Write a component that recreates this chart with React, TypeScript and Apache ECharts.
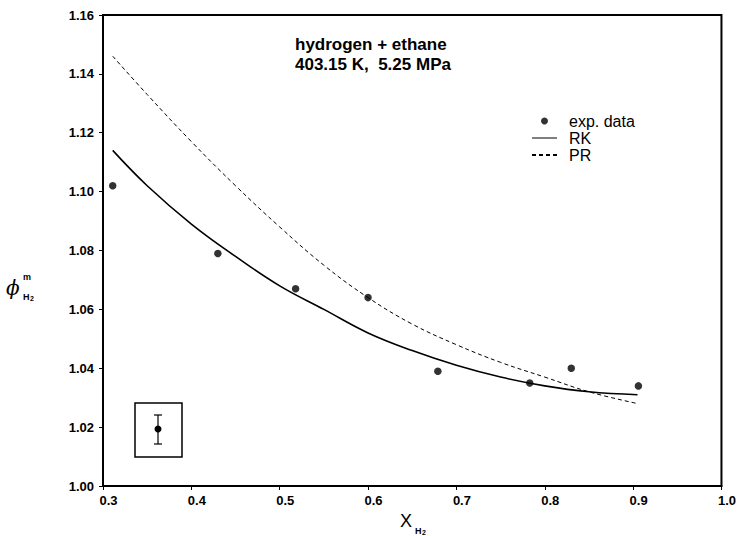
import React, { useEffect, useRef } from "react";
import * as echarts from "echarts";

const FONT = "'Liberation Sans', Arial, Helvetica, sans-serif";

// experimental data: [x_H2, phi_H2^m]
const expX = [0.311, 0.43, 0.518, 0.6, 0.679, 0.783, 0.83, 0.906];
const expY = [1.102, 1.079, 1.067, 1.064, 1.039, 1.035, 1.04, 1.034];

// model curves
const curveX = [0.311, 0.35, 0.4, 0.45, 0.5, 0.55, 0.6, 0.65, 0.7, 0.75, 0.8, 0.85, 0.905];
const rkY = [1.114, 1.102, 1.089, 1.078, 1.068, 1.06, 1.052, 1.046, 1.041, 1.037, 1.034, 1.032, 1.031];
const prY = [1.146, 1.133, 1.117, 1.102, 1.088, 1.075, 1.064, 1.055, 1.048, 1.042, 1.037, 1.032, 1.028];

const xTicks = { min: 0.3, max: 1.0, interval: 0.1 };
const yTicks = { min: 1.0, max: 1.16, interval: 0.02 };

const titleLines = ["hydrogen + ethane", "403.15 K,  5.25 MPa"];

export default function App() {
  const ref = useRef<HTMLDivElement>(null);
  useEffect(() => {
    if (!ref.current) return;
    const chart = echarts.init(ref.current, null, { renderer: "svg" });
    const zip = (xs: number[], ys: number[]) => xs.map((x, i) => [x, ys[i]]);
    const axisLabel = { color: "#000", fontFamily: FONT, fontWeight: "bold" as const, fontSize: 13 };
    chart.setOption({
      animation: false,
      backgroundColor: "#fff",
      grid: { left: 103, right: 16, top: 15, bottom: 50, show: true, borderColor: "#000", borderWidth: 2 },
      xAxis: {
        type: "value",
        min: xTicks.min,
        max: xTicks.max,
        interval: xTicks.interval,
        axisLine: { show: true, lineStyle: { color: "#000", width: 2 } },
        axisTick: { show: true, inside: false, length: 4, lineStyle: { color: "#000", width: 1 } },
        axisLabel: { ...axisLabel, margin: 8, padding: [0, 0, 0, 11], formatter: (v: number) => v.toFixed(1) },
        splitLine: { show: false },
      },
      yAxis: {
        type: "value",
        min: yTicks.min,
        max: yTicks.max,
        interval: yTicks.interval,
        axisLine: { show: true, lineStyle: { color: "#000", width: 2 } },
        axisTick: { show: true, inside: false, length: 4, lineStyle: { color: "#000", width: 1 } },
        axisLabel: { ...axisLabel, margin: 9, formatter: (v: number) => v.toFixed(2) },
        splitLine: { show: false },
      },
      legend: {
        orient: "vertical",
        left: 531,
        top: 113,
        padding: 0,
        itemGap: 1,
        itemWidth: 25,
        itemHeight: 7,
        textStyle: { fontSize: 16, fontFamily: FONT, color: "#000", lineHeight: 16, padding: [0, 0, 0, 7] },
        data: [
          { name: "exp. data", icon: "circle" },
          { name: "RK", itemStyle: { opacity: 0, borderWidth: 0 }, lineStyle: { width: 1 } },
          { name: "PR", itemStyle: { opacity: 0, borderWidth: 0 } },
        ],
      },
      series: [
        {
          name: "exp. data",
          type: "scatter",
          symbol: "circle",
          symbolSize: 7.5,
          itemStyle: { color: "#000" },
          data: zip(expX, expY),
          z: 5,
        },
        {
          name: "RK",
          type: "line",
          smooth: 0.4,
          showSymbol: false,
          symbol: "none",
          lineStyle: { color: "#000", width: 1.6, type: "solid" },
          itemStyle: { color: "#000" },
          data: zip(curveX, rkY),
        },
        {
          name: "PR",
          type: "line",
          smooth: 0.4,
          showSymbol: false,
          symbol: "none",
          lineStyle: { color: "#000", width: 1, type: [4, 3] },
          itemStyle: { color: "#000" },
          data: zip(curveX, prY),
        },
      ],
      graphic: [
        {
          type: "text",
          left: 295,
          top: 34,
          style: { text: titleLines.join("\n"), fontFamily: FONT, fontWeight: "bold", fontSize: 17, lineHeight: 20, fill: "#000" },
        },
        // inset showing typical error bar
        { type: "rect", shape: { x: 135, y: 403, width: 47, height: 54 }, style: { fill: "none", stroke: "#000", lineWidth: 1.5 } },
        { type: "line", shape: { x1: 158, y1: 415, x2: 158, y2: 444 }, style: { stroke: "#000", lineWidth: 1.2 } },
        { type: "line", shape: { x1: 154, y1: 415, x2: 162, y2: 415 }, style: { stroke: "#000", lineWidth: 1.2 } },
        { type: "line", shape: { x1: 154, y1: 444, x2: 162, y2: 444 }, style: { stroke: "#000", lineWidth: 1.2 } },
        { type: "circle", shape: { cx: 158, cy: 429, r: 3.5 }, style: { fill: "#000" } },
        // y-axis title
        { type: "text", x: 6, y: 278, style: { text: "ϕ", fontFamily: "'DejaVu Serif', serif", fontStyle: "italic", fontSize: 20, fill: "#000" } },
        { type: "text", x: 23, y: 272, style: { text: "m", fontFamily: FONT, fontWeight: "bold", fontSize: 9, fill: "#000" } },
        { type: "text", x: 23, y: 292, style: { text: "H", fontFamily: FONT, fontWeight: "bold", fontSize: 9, fill: "#000" } },
        { type: "text", x: 30, y: 295, style: { text: "2", fontFamily: FONT, fontWeight: "bold", fontSize: 7, fill: "#000" } },
        // x-axis title
        { type: "text", x: 400, y: 512, style: { text: "X", fontFamily: FONT, fontSize: 18, fill: "#000" } },
        { type: "text", x: 415, y: 526, style: { text: "H", fontFamily: FONT, fontWeight: "bold", fontSize: 9, fill: "#000" } },
        { type: "text", x: 422, y: 529, style: { text: "2", fontFamily: FONT, fontWeight: "bold", fontSize: 7, fill: "#000" } },
      ],
    });
    return () => chart.dispose();
  }, []);
  return <div ref={ref} style={{ width: 739, height: 536, position: "absolute", left: 0, top: 0 }} />;
}
